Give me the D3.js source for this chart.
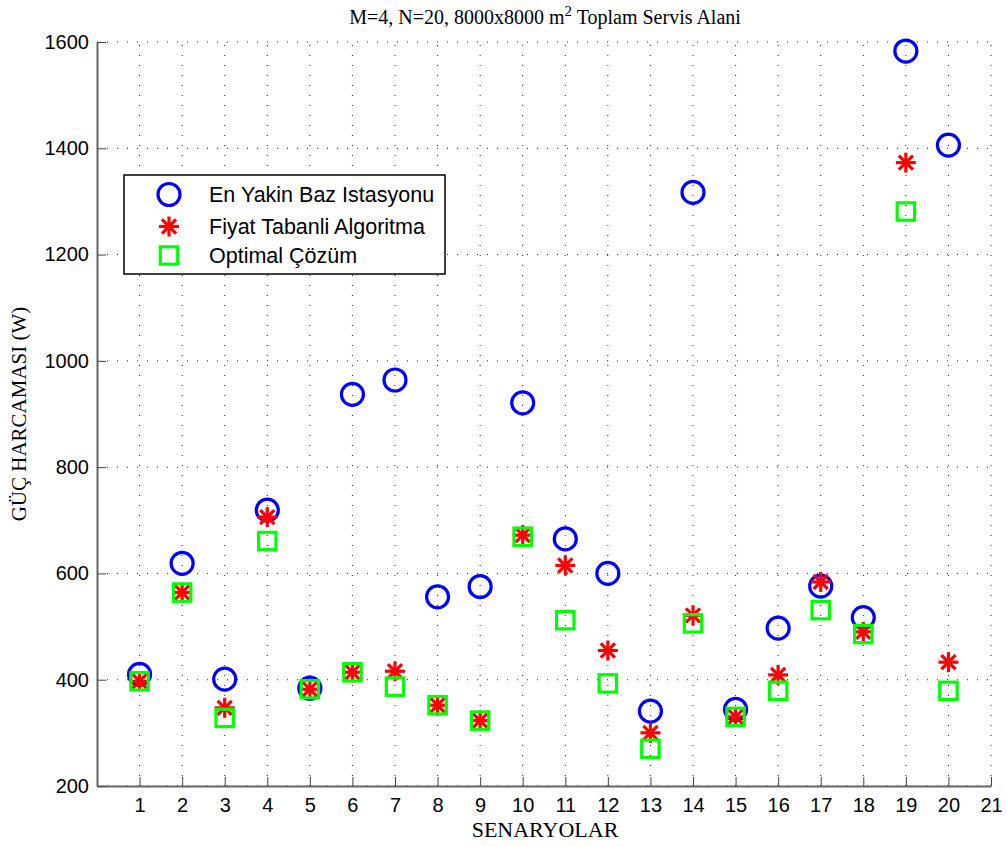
<!DOCTYPE html>
<html>
<head>
<meta charset="utf-8">
<script src="https://cdn.jsdelivr.net/npm/d3@7"></script>
<style>
  body { margin: 0; background: #fff; }
  svg { display: block; }
</style>
</head>
<body>
<div id="chart"></div>
<script>
// scenario numbers 1..20
const scenarios = d3.range(1, 21);
// power consumption (W) per scenario
const nearestBS = [410, 619, 401, 719, 384, 937, 964, 556, 575, 921, 665, 600, 341, 1317, 344, 497, 576, 517, 1583, 1406];
const priceBased = [397, 564, 347, 706, 382, 414, 416, 352, 323, 672, 615, 455, 300, 521, 330, 409, 584, 490, 1373, 433];
const optimal = [397, 564, 328, 661, 382, 414, 387, 352, 323, 669, 512, 393, 270, 506, 330, 379, 531, 486, 1281, 379];

const xTicks = d3.range(1, 22);
const yTicks = [200, 400, 600, 800, 1000, 1200, 1400, 1600];
const legendLabels = ["En Yakin Baz Istasyonu", "Fiyat Tabanli Algoritma", "Optimal Çözüm"];

const width = 1007, height = 846;
const margin = { top: 42, right: 16, bottom: 60, left: 97 };
const serif = "Liberation Serif, Times New Roman, serif";
const sans = "Liberation Sans, Arial, sans-serif";

const svg = d3.select("#chart").append("svg")
  .attr("width", width)
  .attr("height", height);

const x = d3.scaleLinear().domain([0, 21]).range([margin.left, width - margin.right]);
const y = d3.scaleLinear().domain([200, 1600]).range([height - margin.bottom, margin.top]);

// dotted grid
const grid = svg.append("g").attr("class", "grid")
  .attr("stroke", "#222").attr("stroke-width", 1).attr("stroke-dasharray", "1,9");
grid.selectAll(".vg").data(xTicks).join("line")
  .attr("x1", d => x(d)).attr("x2", d => x(d))
  .attr("y1", y(200)).attr("y2", y(1600));
grid.selectAll(".hg").data(yTicks).join("line")
  .attr("x1", x(0)).attr("x2", x(21))
  .attr("y1", d => y(d)).attr("y2", d => y(d));

// axes (MATLAB-ish: ticks inside)
const xAxis = svg.append("g")
  .attr("transform", `translate(0,${y(200)})`)
  .call(d3.axisBottom(x).tickValues(xTicks).tickSizeInner(-9).tickSizeOuter(0).tickPadding(12));
const yAxis = svg.append("g")
  .attr("transform", `translate(${x(0)},0)`)
  .call(d3.axisLeft(y).tickValues(yTicks).tickFormat(d3.format("d"))
    .tickSizeInner(-9).tickSizeOuter(0).tickPadding(8));

[xAxis, yAxis].forEach(g => {
  g.select(".domain").attr("stroke", "#666").attr("stroke-width", 2);
  g.selectAll(".tick line").attr("stroke", "#444");
  g.selectAll(".tick text")
    .attr("font-family", sans)
    .attr("font-size", 20)
    .attr("fill", "#000");
});

// title
const title = svg.append("text")
  .attr("x", 545).attr("y", 24)
  .attr("text-anchor", "middle")
  .attr("font-family", serif)
  .attr("font-size", 20);
title.append("tspan").text("M=4, N=20, 8000x8000 m");
title.append("tspan").attr("dy", -8).attr("font-size", 15).text("2");
title.append("tspan").attr("dy", 8).text(" Toplam Servis Alani");

// axis labels
svg.append("text")
  .attr("x", 545).attr("y", 837)
  .attr("text-anchor", "middle")
  .attr("font-family", serif)
  .attr("font-size", 22)
  .text("SENARYOLAR");

svg.append("text")
  .attr("transform", `translate(26,${(y(200) + y(1600)) / 2}) rotate(-90)`)
  .attr("text-anchor", "middle")
  .attr("font-family", serif)
  .attr("font-size", 21)
  .text("GÜÇ HARCAMASI (W)");

// marker drawers
function drawCircle(g) {
  g.append("circle").attr("r", 11)
    .attr("fill", "none").attr("stroke", "#0000ff").attr("stroke-width", 3.2);
}
function drawStar(g) {
  const r = 10;
  [0, 45, 90, 135].forEach(a => {
    const t = a * Math.PI / 180;
    g.append("line")
      .attr("x1", -r * Math.cos(t)).attr("y1", -r * Math.sin(t))
      .attr("x2", r * Math.cos(t)).attr("y2", r * Math.sin(t))
      .attr("stroke", "#ff0000").attr("stroke-width", 3.2);
  });
}
function drawSquare(g) {
  g.append("rect").attr("x", -8.7).attr("y", -8.7).attr("width", 17.4).attr("height", 17.4)
    .attr("fill", "none").attr("stroke", "#00ff00").attr("stroke-width", 3.2);
}

const series = [
  { values: nearestBS, draw: drawCircle },
  { values: priceBased, draw: drawStar },
  { values: optimal, draw: drawSquare }
];

series.forEach(s => {
  svg.append("g").selectAll("g")
    .data(scenarios)
    .join("g")
    .attr("transform", (d, i) => `translate(${x(d)},${y(s.values[i])})`)
    .each(function () { s.draw(d3.select(this)); });
});

// legend
const legend = svg.append("g").attr("transform", "translate(124,175)");
legend.append("rect")
  .attr("width", 321).attr("height", 99)
  .attr("fill", "#fff").attr("stroke", "#000").attr("stroke-width", 1.5);

const legendItems = legend.selectAll(".item")
  .data(legendLabels)
  .join("g")
  .attr("transform", (d, i) => `translate(0,${[19.5, 51.5, 80.5][i]})`);

legendItems.each(function (d, i) {
  const g = d3.select(this).append("g").attr("transform", "translate(45,0)");
  series[i].draw(g);
});

legendItems.append("text")
  .attr("x", 85).attr("dy", "0.35em")
  .attr("font-family", sans)
  .attr("font-size", 21.5)
  .text(d => d);
</script>
</body>
</html>
